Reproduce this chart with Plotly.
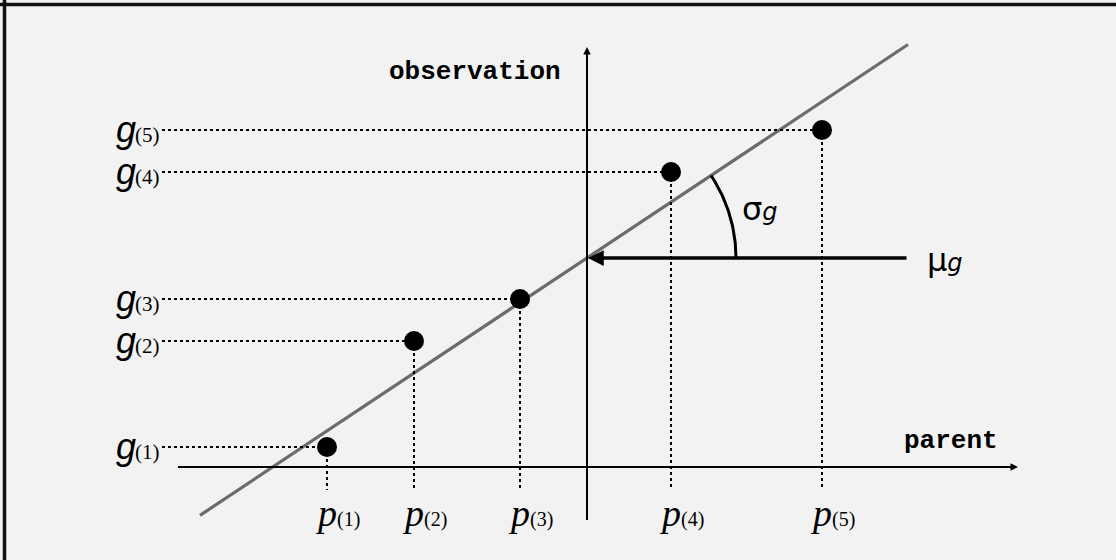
import numpy as np
import plotly.graph_objects as go

# ---- data (schematic units; origin where the two axes cross) ----
point_labels = ["(1)", "(2)", "(3)", "(4)", "(5)"]
parent_vals = [-260, -173, -67, 84, 235]        # p_(i)
obs_vals = [20, 126, 168, 295, 337]             # g_(i)
mu_g = 209                                      # intercept
slope_g = 0.665                                 # slope (sigma_g)
line_x = [-387, 321]                            # extent of fitted line
x_axis_label = "parent"
y_axis_label = "observation"

W, H = 1116, 560
OX, OY = 587, 467   # pixel position of the origin

fig = go.Figure()

# fitted line
lx = np.array(line_x, dtype=float)
fig.add_trace(go.Scatter(x=lx, y=mu_g + slope_g * lx, mode="lines",
                         line=dict(color="#6b6b6b", width=3.2), hoverinfo="skip"))

shapes = []
# dotted guide lines
G_LEFT = -425
P_BOTTOM = -23
for p, g in zip(parent_vals, obs_vals):
    shapes.append(dict(type="line", x0=G_LEFT, x1=p, y0=g, y1=g,
                       line=dict(color="black", width=2, dash="dot")))
    shapes.append(dict(type="line", x0=p, x1=p, y0=g, y1=P_BOTTOM,
                       line=dict(color="black", width=2, dash="dot")))

# axes lines
shapes.append(dict(type="line", x0=-409, x1=428, y0=0, y1=0, line=dict(color="black", width=2)))
shapes.append(dict(type="line", x0=0, x1=0, y0=-53, y1=417, line=dict(color="black", width=2)))

# frame (left and top edges)
shapes.append(dict(type="line", xref="paper", yref="paper", x0=4.5 / W, x1=4.5 / W, y0=0, y1=1,
                   line=dict(color="#111111", width=3.5)))
shapes.append(dict(type="line", xref="paper", yref="paper", x0=0, x1=1, y0=1 - 4.5 / H, y1=1 - 4.5 / H,
                   line=dict(color="#111111", width=3.5)))
fig.update_layout(shapes=shapes)

# angle arc
ang = np.arctan(slope_g)
t = np.linspace(0, ang, 60)
R = 149
fig.add_trace(go.Scatter(x=R * np.cos(t), y=mu_g + R * np.sin(t), mode="lines",
                         line=dict(color="black", width=3), hoverinfo="skip"))

# points
fig.add_trace(go.Scatter(x=parent_vals, y=obs_vals, mode="markers",
                         marker=dict(color="black", size=20), hoverinfo="skip"))

ann = []
# axis arrowheads
ann.append(dict(x=431, y=0, ax=400, ay=0, xref="x", yref="y", axref="x", ayref="y",
                showarrow=True, arrowhead=2, arrowsize=1, arrowwidth=1.5, arrowcolor="black", text=""))
ann.append(dict(x=0, y=420, ax=0, ay=390, xref="x", yref="y", axref="x", ayref="y",
                showarrow=True, arrowhead=2, arrowsize=1, arrowwidth=1.5, arrowcolor="black", text=""))
# mu arrow
ann.append(dict(x=1, y=mu_g, ax=321, ay=mu_g, xref="x", yref="y", axref="x", ayref="y",
                showarrow=True, arrowhead=2, arrowsize=0.9, arrowwidth=3.5, arrowcolor="black", text=""))

# g labels (letter + subscript as separate pieces)
G_SPLIT = G_LEFT - 26
for lab, g in zip(point_labels, obs_vals):
    ann.append(dict(x=G_SPLIT + 2, y=g + 1, xref="x", yref="y", xanchor="right", yanchor="middle",
                    showarrow=False, text="<i>g</i>",
                    font=dict(family="Liberation Sans", size=36, color="black")))
    ann.append(dict(x=G_SPLIT - 3, y=g - 5, xref="x", yref="y", xanchor="left", yanchor="middle",
                    showarrow=False, text=lab,
                    font=dict(family="Liberation Serif", size=21, color="black")))
# p labels
for lab, p in zip(point_labels, parent_vals):
    ann.append(dict(x=p - 14, y=-46, xref="x", yref="y", xanchor="left", yanchor="middle",
                    showarrow=False,
                    text="<i>p</i><span style='font-size:20px'>" + lab + "</span>",
                    font=dict(family="Liberation Serif", size=38, color="black")))

# sigma and mu labels
ann.append(dict(x=153, y=258, xref="x", yref="y", xanchor="left", yanchor="middle", showarrow=False,
                text="σ<i><span style='font-size:24px'>g</span></i>",
                font=dict(family="DejaVu Sans", size=32, color="black")))
ann.append(dict(x=338, y=mu_g - 2, xref="x", yref="y", xanchor="left", yanchor="middle", showarrow=False,
                text="μ<i><span style='font-size:24px'>g</span></i>",
                font=dict(family="DejaVu Sans", size=32, color="black")))

# axis titles
ann.append(dict(x=-24, y=395, xref="x", yref="y", xanchor="right", yanchor="middle", showarrow=False,
                text="<b>" + y_axis_label + "</b>",
                font=dict(family="Liberation Mono", size=26, color="black")))
ann.append(dict(x=413, y=26, xref="x", yref="y", xanchor="right", yanchor="middle", showarrow=False,
                text="<b>" + x_axis_label + "</b>",
                font=dict(family="Liberation Mono", size=26, color="black")))

fig.update_layout(
    annotations=ann,
    width=W, height=H,
    margin=dict(l=0, r=0, t=0, b=0),
    paper_bgcolor="#f2f2f2", plot_bgcolor="#f2f2f2",
    showlegend=False,
    xaxis=dict(range=[-OX, W - OX], visible=False, fixedrange=True),
    yaxis=dict(range=[OY - H, OY], visible=False, fixedrange=True),
)

fig.write_html("out.html", config={"displayModeBar": False},
               post_script="document.body.style.margin='0';document.body.style.overflow='hidden';")
